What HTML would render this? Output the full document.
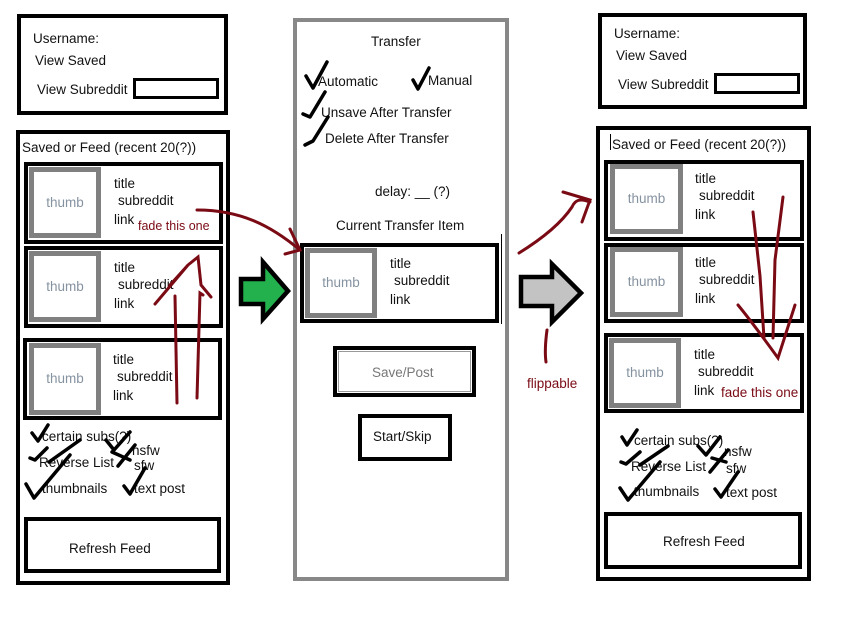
<!DOCTYPE html>
<html><head><style>
body{margin:0;width:846px;height:620px;background:#fff;position:relative;overflow:hidden;font-family:"Liberation Sans",sans-serif;font-size:13.5px;color:#111}
.a{position:absolute;box-sizing:border-box}
.b{border:4px solid #000}
.th{position:absolute;box-sizing:border-box;border:5px solid #808080;background:#fff;color:#8592a0;text-align:center;font-size:13.5px}
.t{position:absolute;white-space:nowrap;line-height:15px}
.r{color:#7a0a14}
svg{position:absolute;left:0;top:0}
</style></head><body>
<div class="a b" style="left:17px;top:14px;width:211px;height:101px"></div>
<div class="t" style="left:33px;top:31px">Username:</div>
<div class="t" style="left:35px;top:53px">View Saved</div>
<div class="t" style="left:37px;top:82px">View Subreddit</div>
<div class="a" style="left:133px;top:78px;width:86px;height:21px;border:3px solid #000"></div>
<div class="a b" style="left:16px;top:130px;width:214px;height:455px"></div>
<div class="t" style="left:22px;top:140px">Saved or Feed (recent 20(?))</div>
<div class="a b" style="left:24px;top:162px;width:199px;height:82px"></div>
<div class="th" style="left:29px;top:167px;width:72px;height:71px;line-height:61px">thumb</div>
<div class="t" style="left:114px;top:176px">title</div><div class="t" style="left:118px;top:193px">subreddit</div><div class="t" style="left:114px;top:212px">link</div>
<div class="t r" style="left:138px;top:219px;font-size:12.5px">fade this one</div>
<div class="a b" style="left:24px;top:246px;width:199px;height:82px"></div>
<div class="th" style="left:29px;top:251px;width:72px;height:71px;line-height:61px">thumb</div>
<div class="t" style="left:114px;top:260px">title</div><div class="t" style="left:118px;top:277px">subreddit</div><div class="t" style="left:114px;top:296px">link</div>
<div class="a b" style="left:23px;top:338px;width:199px;height:82px"></div>
<div class="th" style="left:29px;top:343px;width:72px;height:72px;line-height:62px">thumb</div>
<div class="t" style="left:113px;top:352px">title</div><div class="t" style="left:117px;top:369px">subreddit</div><div class="t" style="left:113px;top:388px">link</div>
<div class="t" style="left:42px;top:429px">certain subs(?)</div>
<div class="t" style="left:132px;top:443px">nsfw</div>
<div class="t" style="left:39px;top:455px">Reverse List</div>
<div class="t" style="left:134px;top:458px">sfw</div>
<div class="t" style="left:42px;top:481px">thumbnails</div>
<div class="t" style="left:134px;top:481px">text post</div>
<div class="a b" style="left:24px;top:517px;width:197px;height:56px"></div>
<div class="t" style="left:69px;top:541px">Refresh Feed</div>
<div class="a" style="left:293px;top:18px;width:216px;height:563px;border:4px solid #888"></div>
<div class="t" style="left:371px;top:34px">Transfer</div>
<div class="t" style="left:318px;top:74px">Automatic</div>
<div class="t" style="left:428px;top:73px">Manual</div>
<div class="t" style="left:321px;top:105px">Unsave After Transfer</div>
<div class="t" style="left:325px;top:131px">Delete After Transfer</div>
<div class="t" style="left:375px;top:184px">delay: __ (?)</div>
<div class="t" style="left:336px;top:218px">Current Transfer Item</div>
<div class="a b" style="left:300px;top:243px;width:199px;height:80px"></div>
<div class="th" style="left:305px;top:248px;width:72px;height:70px;line-height:60px">thumb</div>
<div class="t" style="left:390px;top:256px">title</div><div class="t" style="left:394px;top:273px">subreddit</div><div class="t" style="left:390px;top:292px">link</div>
<div class="a" style="left:501px;top:234px;width:1px;height:90px;background:#000"></div>
<div class="a b" style="left:333px;top:346px;width:143px;height:51px"></div>
<div class="a" style="left:338px;top:351px;width:133px;height:41px;border:1px solid #999"></div>
<div class="t" style="left:372px;top:365px;color:#777">Save/Post</div>
<div class="a b" style="left:358px;top:414px;width:94px;height:47px"></div>
<div class="t" style="left:373px;top:429px">Start/Skip</div>
<div class="a b" style="left:598px;top:13px;width:209px;height:96px"></div>
<div class="t" style="left:614px;top:26px">Username:</div>
<div class="t" style="left:616px;top:48px">View Saved</div>
<div class="t" style="left:618px;top:77px">View Subreddit</div>
<div class="a" style="left:714px;top:73px;width:86px;height:21px;border:3px solid #000"></div>
<div class="a b" style="left:596px;top:126px;width:215px;height:455px"></div>
<div class="a" style="left:610px;top:134px;width:1px;height:16px;background:#000"></div>
<div class="t" style="left:612px;top:137px">Saved or Feed (recent 20(?))</div>
<div class="a b" style="left:604px;top:160px;width:200px;height:81px"></div>
<div class="th" style="left:610px;top:164px;width:73px;height:70px;line-height:60px">thumb</div>
<div class="t" style="left:695px;top:171px">title</div><div class="t" style="left:699px;top:188px">subreddit</div><div class="t" style="left:695px;top:207px">link</div>
<div class="a b" style="left:604px;top:243px;width:200px;height:80px"></div>
<div class="th" style="left:610px;top:247px;width:73px;height:70px;line-height:60px">thumb</div>
<div class="t" style="left:695px;top:255px">title</div><div class="t" style="left:699px;top:272px">subreddit</div><div class="t" style="left:695px;top:291px">link</div>
<div class="a b" style="left:604px;top:333px;width:200px;height:80px"></div>
<div class="th" style="left:609px;top:338px;width:72px;height:70px;line-height:60px">thumb</div>
<div class="t" style="left:694px;top:347px">title</div><div class="t" style="left:698px;top:364px">subreddit</div><div class="t" style="left:694px;top:383px">link</div>
<div class="t r" style="left:721px;top:385px">fade this one</div>
<div class="t" style="left:634px;top:433px">certain subs(?)</div>
<div class="t" style="left:724px;top:444px">nsfw</div>
<div class="t" style="left:631px;top:459px">Reverse List</div>
<div class="t" style="left:726px;top:461px">sfw</div>
<div class="t" style="left:634px;top:484px">thumbnails</div>
<div class="t" style="left:726px;top:485px">text post</div>
<div class="a b" style="left:604px;top:512px;width:198px;height:57px"></div>
<div class="t" style="left:663px;top:534px">Refresh Feed</div>
<div class="t r" style="left:527px;top:376px">flippable</div>
<svg width="846" height="620">
<path d="M241,279 L263,279 L263,262 L288,291 L263,319 L263,304 L241,304 Z" fill="#22b14c" stroke="#000" stroke-width="4.5"/>
<path d="M521,277 L552,277 L552,264 L581,293 L552,322 L552,306 L521,306 Z" fill="#c3c3c3" stroke="#000" stroke-width="4.5"/>
<g fill="none" stroke="#7a0a14" stroke-width="3" stroke-linecap="round">
<path d="M197,210 C240,210 270,225 300,250"/>
<path d="M290,229 L300,250 L285,254"/>
<path d="M177,403 L175,296"/><path d="M197,398 L200,293 L203,295"/>
<path d="M155,304 L188,265 L170,285 M188,265 L198,257 L201,285 L211,297"/>
<path d="M519,253 C540,240 560,225 572,207 C575,200 580,198 590,202"/>
<path d="M563,192 L590,200 L582,222"/>
<path d="M547,330 C545,345 545,355 546,362"/>
<path d="M753,212 L760,276 L764,338"/>
<path d="M783,197 L775,260 L773,338"/>
<path d="M738,305 C752,322 765,340 778,358 L795,305"/>
</g>
<g fill="none" stroke="#000" stroke-width="3.5" stroke-linecap="round" stroke-linejoin="round">
<path d="M306,76 L313,88 L327,62"/><path d="M413,80 L418,89 L429,68"/>
<path d="M303,114 L310,117 L325,92"/><path d="M305,145 L313,141 L328,117"/>
<path d="M32,433 L38,441 L48,425"/><path d="M106,440 L114,450 L130,432 M112,452 L130,460 M118,466 L135,445"/>
<path d="M30,458 L35,460 L47,448 M49,462 L80,440"/>
<path d="M26,484 L34,498 L70,455"/><path d="M124,486 L130,494 L145,468"/>
<path d="M622,437 L627,445 L637,430"/><path d="M698,446 L706,455 L720,437 M712,458 L726,462 M710,472 L728,450"/>
<path d="M621,462 L626,464 L640,452 M640,465 L668,446"/>
<path d="M620,488 L628,500 L660,462"/><path d="M715,489 L721,497 L738,472"/>
</g>
</svg>
</body></html>
